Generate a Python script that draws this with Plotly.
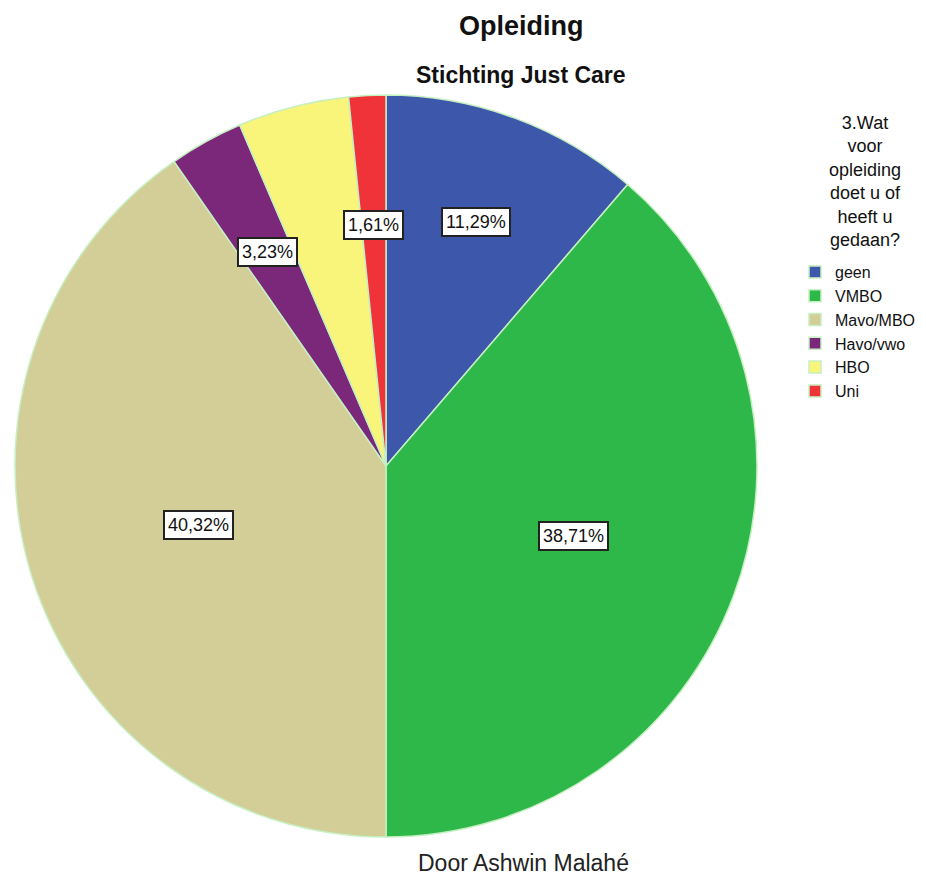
import math
import plotly.graph_objects as go

# Opleiding – Stichting Just Care
categories = ["geen", "VMBO", "Mavo/MBO", "Havo/vwo", "HBO", "Uni"]
percentages = [11.29, 38.71, 40.32, 3.23, 4.84, 1.61]
show_label = [True, True, True, True, False, True]

colors = ["#3d58ab", "#2eb84a", "#d3cd97", "#7b287b", "#f8f57a", "#ef3339"]
# distance of each boxed value label from the centre, as a fraction of the radius
label_radius = [0.70, 0.54, 0.53, 0.66, 0.66, 0.65]

FONT = "Liberation Sans, Arial, sans-serif"
W, H = 926, 875
dom_x = [14 / W, 758 / W]
dom_y = [1 - 837 / H, 1 - 95 / H]

fig = go.Figure(
    go.Pie(
        labels=categories,
        values=percentages,
        sort=False,
        direction="clockwise",
        rotation=0,
        textinfo="none",
        hoverinfo="label+percent",
        marker=dict(colors=colors, line=dict(color="#c6efc2", width=1.5)),
        domain=dict(x=dom_x, y=dom_y),
    )
)

# boxed percentage labels placed at the middle angle of each slice
cx = (dom_x[0] + dom_x[1]) / 2 * W
cy = (1 - (dom_y[0] + dom_y[1]) / 2) * H
radius = min((dom_x[1] - dom_x[0]) * W, (dom_y[1] - dom_y[0]) * H) / 2
total = sum(percentages)
start = 0.0
for cat, val, show, rf in zip(categories, percentages, show_label, label_radius):
    mid = (start + val / 2) / total * 2 * math.pi
    start += val
    if not show:
        continue
    px = cx + rf * radius * math.sin(mid)
    py = cy - rf * radius * math.cos(mid)
    fig.add_annotation(
        x=px / W, y=1 - py / H, xref="paper", yref="paper",
        xanchor="center", yanchor="middle",
        text=f"{val:.2f}%".replace(".", ","),
        showarrow=False,
        font=dict(family=FONT, size=18, color="#111"),
        bgcolor="white", bordercolor="#222222", borderwidth=2, borderpad=3,
    )


def text_at(x, y, text, size, color="#111"):
    fig.add_annotation(
        x=x / W, y=1 - y / H, xref="paper", yref="paper",
        xanchor="center", yanchor="middle", align="center",
        text=text, showarrow=False,
        font=dict(family=FONT, size=size, color=color),
    )


text_at(521, 26, "<b>Opleiding</b>", 27)
text_at(521, 75, "<b>Stichting Just Care</b>", 23)
text_at(523, 863, "Door Ashwin Malahé", 23, "#222")
# legend heading
text_at(865, 182, "3.Wat<br>voor<br>opleiding<br>doet u of<br>heeft u<br>gedaan?", 18)

fig.update_layout(
    width=W, height=H,
    margin=dict(l=0, r=0, t=0, b=0),
    paper_bgcolor="white", plot_bgcolor="white",
    showlegend=True,
    legend=dict(
        x=795 / W, y=1 - 255 / H, xanchor="left", yanchor="top",
        font=dict(family=FONT, size=16, color="#111"),
        bgcolor="rgba(0,0,0,0)",
        traceorder="normal",
    ),
)

fig.write_html("out.html")
